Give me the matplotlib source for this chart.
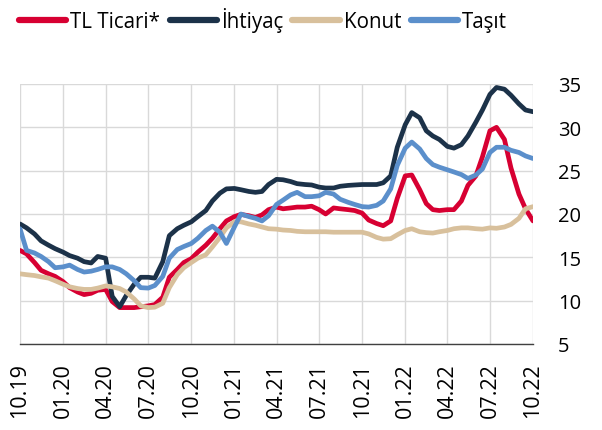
import pandas as pd
import matplotlib.pyplot as plt


# Kredi faizleri: TL ticari, ihtiyaç, konut ve taşıt (%), yarım aylık


dates = pd.date_range('2019-10-01', periods=73, freq='SMS')

tl_ticari = [15.8, 15.4, 14.4, 13.5, 13.1, 12.8, 12.2, 11.5, 11.0, 10.7,
             10.85, 11.2, 11.3, 9.9, 9.2, 9.2, 9.2, 9.3, 9.4, 9.55,
             10.4, 12.7, 13.6, 14.4, 14.85, 15.6, 16.4, 17.2, 18.3, 19.2,
             19.7, 19.95, 19.8, 19.6, 19.9, 20.5, 20.8, 20.6, 20.7, 20.8,
             20.8, 20.9, 20.5, 20.0, 20.7, 20.6, 20.5, 20.4, 20.1, 19.3,
             18.9, 18.65, 19.2, 21.8, 24.4, 24.5, 22.8, 21.2, 20.5, 20.4,
             20.5, 20.5, 21.5, 23.3, 24.4, 26.6, 29.6, 30.0, 28.6, 25.3,
             22.3, 20.6, 19.2]

ihtiyac = [18.85, 18.4, 17.7, 16.9, 16.4, 16.0, 15.6, 15.2, 14.9, 14.5,
           14.35, 15.1, 14.9, 10.5, 9.3, 10.6, 11.9, 12.7, 12.7, 12.6,
           14.5, 17.5, 18.3, 18.7, 19.1, 19.7, 20.4, 21.5, 22.4, 22.9,
           22.95, 22.8, 22.6, 22.5, 22.6, 23.4, 24.0, 23.95, 23.75, 23.5,
           23.4, 23.35, 23.1, 23.0, 23.0, 23.2, 23.3, 23.35, 23.4, 23.4,
           23.4, 23.6, 24.4, 27.7, 30.3, 31.7, 31.1, 29.6, 29.0, 28.6,
           27.8, 27.6, 28.0, 29.0, 30.6, 32.0, 33.8, 34.6, 34.4, 33.7,
           32.7, 32.0, 31.8]

konut = [13.1, 13.0, 12.9, 12.75, 12.6, 12.3, 11.9, 11.6, 11.4, 11.3,
         11.3, 11.45, 11.7, 11.6, 11.4, 11.0, 10.2, 9.4, 9.2, 9.25,
         9.7, 11.5, 13.0, 13.8, 14.4, 14.9, 15.3, 16.2, 17.3, 18.4,
         19.1, 19.1, 18.85, 18.7, 18.5, 18.3, 18.25, 18.15, 18.1, 18.0,
         17.95, 17.95, 17.95, 17.95, 17.9, 17.9, 17.9, 17.9, 17.9, 17.7,
         17.3, 17.1, 17.15, 17.6, 18.1, 18.3, 17.95, 17.85, 17.8, 17.95,
         18.1, 18.3, 18.4, 18.4, 18.3, 18.25, 18.4, 18.35, 18.5, 18.8,
         19.5, 20.6, 20.85]

tasit = [18.3, 15.8, 15.5, 15.1, 14.5, 13.8, 13.9, 14.1, 13.6, 13.3,
         13.4, 13.6, 13.9, 13.9, 13.6, 13.1, 12.3, 11.5, 11.45, 11.75,
         12.8, 14.9, 15.9, 16.25, 16.6, 17.2, 18.1, 18.6, 17.9, 16.6,
         18.5, 20.0, 19.7, 19.5, 19.2, 19.8, 21.1, 21.6, 22.2, 22.5,
         22.0, 22.0, 22.1, 22.5, 22.3, 21.7, 21.35, 21.1, 20.85, 20.8,
         21.0, 21.5, 22.9, 25.6, 27.6, 28.3, 27.5, 26.4, 25.7, 25.4,
         25.1, 24.85, 24.55, 24.1, 24.5, 25.2, 27.1, 27.7, 27.7, 27.35,
         27.1, 26.7, 26.4]

series = [('TL Ticari*', tl_ticari, '#d70032'),
          ('İhtiyaç', ihtiyac, '#1c3249'),
          ('Konut', konut, '#d8c09c'),
          ('Taşıt', tasit, '#5b8fcb')]

tick_dates = pd.date_range('2019-10-01', '2022-10-01', freq='QS-OCT')
y_ticks = [5, 10, 15, 20, 25, 30, 35]

plt.rcParams['font.family'] = ['Open Sans', 'DejaVu Sans']

fig = plt.figure(figsize=(6.02, 4.31), dpi=100)
ax = fig.add_axes([20 / 602, 86 / 431, 513 / 602, 260 / 431])

for name, values, color in series:
    ax.plot(dates, values, color=color, linewidth=3.4, label=name,
            solid_capstyle='round', solid_joinstyle='round')

ax.set_xlim(tick_dates[0], tick_dates[-1])
ax.set_ylim(5, 35)
ax.set_xticks(tick_dates)
ax.set_xticklabels([d.strftime('%m.%y') for d in tick_dates],
                   rotation=90, fontsize=15.5)
ax.set_yticks(y_ticks)
ax.set_yticklabels([str(v) for v in y_ticks], fontsize=14.5)
ax.yaxis.tick_right()
ax.tick_params(axis='y', length=0, pad=18)
ax.tick_params(axis='x', length=0, pad=13)

ax.grid(True, color='#d9d9d9', linewidth=1)
ax.set_axisbelow(True)
for side in ['left', 'right', 'top']:
    ax.spines[side].set_visible(False)
ax.spines['bottom'].set_color('#404040')
ax.spines['bottom'].set_linewidth(1)

leg = fig.legend(loc='upper left', bbox_to_anchor=(0.018, 1.0), ncol=4,
                 frameon=False, fontsize=14.8, handlelength=2.3,
                 handletextpad=0.2, columnspacing=0.45, borderaxespad=0)
for line in leg.get_lines():
    line.set_linewidth(4.5)

fig.savefig('out.png', dpi=100)
plt.close()
